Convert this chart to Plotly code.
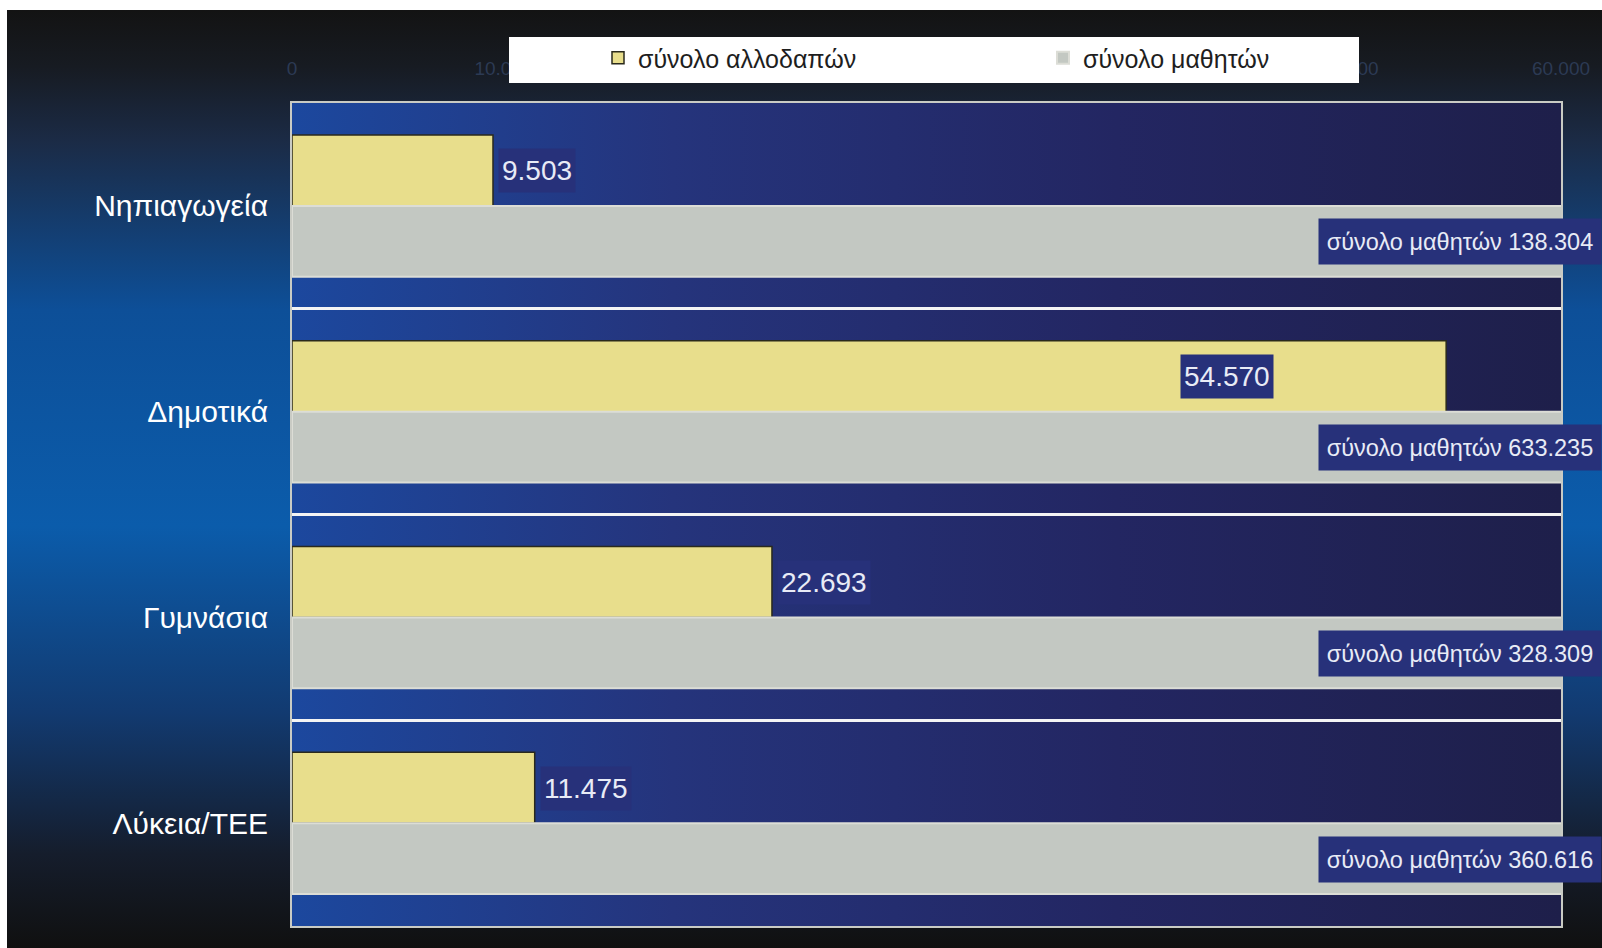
import base64
import plotly.graph_objects as go

categories = ["Νηπιαγωγεία", "Δημοτικά", "Γυμνάσια", "Λύκεια/ΤΕΕ"]
foreign_students = [9503, 54570, 22693, 11475]
total_students = [138304, 633235, 328309, 360616]
foreign_labels = ["9.503", "54.570", "22.693", "11.475"]
total_labels = ["138.304", "633.235", "328.309", "360.616"]
series_names = ["σύνολο αλλοδαπών", "σύνολο μαθητών"]
x_ticks = [0, 10000, 20000, 30000, 40000, 50000, 60000]

FONT = "Liberation Sans, Arial, sans-serif"

W, H = 1602, 948
ML, MR, MT, MB = 292, 41, 103, 22
PW, PH = W - ML - MR, H - MT - MB


def svg_uri(svg):
    return "data:image/svg+xml;base64," + base64.b64encode(svg.encode()).decode()


bg_svg = """<svg xmlns='http://www.w3.org/2000/svg' width='400' height='400' viewBox='0 0 400 400' preserveAspectRatio='none'>
<defs>
<linearGradient id='g' x1='0' y1='0' x2='0' y2='1'>
<stop offset='0' stop-color='#131313'/>
<stop offset='0.06' stop-color='#171b22'/>
<stop offset='0.14' stop-color='#1b2b46'/>
<stop offset='0.32' stop-color='#0d4f98'/>
<stop offset='0.55' stop-color='#0b5cab'/>
<stop offset='0.75' stop-color='#123a70'/>
<stop offset='0.9' stop-color='#151d2c'/>
<stop offset='1' stop-color='#101010'/>
</linearGradient>
</defs>
<rect x='0' y='0' width='400' height='400' fill='url(#g)'/>
</svg>"""

plot_svg = """<svg xmlns='http://www.w3.org/2000/svg' width='400' height='400' viewBox='0 0 400 400' preserveAspectRatio='none'>
<defs>
<linearGradient id='h' x1='0' y1='0' x2='1' y2='0'>
<stop offset='0' stop-color='#1c489e'/>
<stop offset='0.3' stop-color='#25347c'/>
<stop offset='0.65' stop-color='#232662'/>
<stop offset='1' stop-color='#1e1f4a'/>
</linearGradient>
</defs>
<rect x='0' y='0' width='400' height='400' fill='url(#h)'/>
</svg>"""

fig = go.Figure()
fig.add_trace(go.Bar(
    y=categories, x=foreign_students, orientation="h", name=series_names[0],
    marker=dict(color="#e8de8c", line=dict(color="#2a2a1c", width=1.5)),
))
fig.add_trace(go.Bar(
    y=categories, x=total_students, orientation="h", name=series_names[1],
    marker=dict(color="#c3c8c2", line=dict(color="#dcddd6", width=2)),
))

annotations = []
for cat, val, lab in zip(categories, foreign_students, foreign_labels):
    inside = val > 45000
    annotations.append(dict(
        xref="x", yref="y", x=val, y=cat,
        xanchor="right" if inside else "left",
        xshift=-172 if inside else 5, yshift=35,
        text=lab, showarrow=False, bgcolor="#27317a", borderpad=3,
        height=37,
        font=dict(family=FONT, size=28, color="#e8ebf6"),
    ))
for cat, lab in zip(categories, total_labels):
    annotations.append(dict(
        xref="paper", yref="y", x=1, y=cat, xanchor="right",
        xshift=MR, yshift=-36,
        text=series_names[1] + " " + lab, showarrow=False,
        bgcolor="#27317a", borderpad=0, width=282, height=45,
        align="center",
        font=dict(family=FONT, size=23.5, color="#e8ebf6"),
    ))

fig.update_layout(
    width=W, height=H,
    margin=dict(l=ML, r=MR, t=MT, b=MB, pad=0),
    paper_bgcolor="white", plot_bgcolor="rgba(0,0,0,0)",
    separators=",.",
    barmode="group", bargap=0.31, bargroupgap=0,
    showlegend=True,
    legend=dict(
        orientation="h", x=(598 - ML) / PW, xanchor="left",
        y=1 + (MT - 58) / PH, yanchor="middle",
        bgcolor="rgba(0,0,0,0)", entrywidth=400, entrywidthmode="pixels",
        font=dict(family=FONT, size=25, color="#1e1e1e"),
        traceorder="normal",
    ),
    xaxis=dict(
        side="top", range=[0, 60000], tickvals=x_ticks, tickformat=",d",
        showgrid=False, zeroline=False,
        showline=True, mirror=True, linecolor="#c9cbc4", linewidth=2,
        ticks="", ticklabelstandoff=18,
        tickfont=dict(family=FONT, size=19, color="#2c3a54"),
    ),
    yaxis=dict(
        autorange="reversed", tickson="boundaries",
        showgrid=True, gridcolor="#f4f4f4", gridwidth=3,
        showline=True, mirror=True, linecolor="#c9cbc4", linewidth=2,
        ticks="", ticklabelstandoff=16,
        tickfont=dict(family=FONT, size=30, color="white"),
    ),
    images=[
        dict(source=svg_uri(bg_svg), xref="paper", yref="paper",
             x=(7 - ML) / PW, y=1 + (MT - 10) / PH,
             sizex=(W - 7) / PW, sizey=(H - 10) / PH,
             sizing="stretch", xanchor="left", yanchor="top", layer="below"),
        dict(source=svg_uri(plot_svg), xref="paper", yref="paper",
             x=0, y=1, sizex=1, sizey=1,
             sizing="stretch", xanchor="left", yanchor="top", layer="below"),
    ],
    shapes=[
        dict(type="rect", xref="paper", yref="paper", layer="above",
             x0=(509 - ML) / PW, x1=(1359 - ML) / PW,
             y0=1 + (MT - 83) / PH, y1=1 + (MT - 37) / PH,
             fillcolor="white", line=dict(width=0)),
    ],
    annotations=annotations,
)

fig.write_html(
    "out.html",
    config={"displayModeBar": False},
    post_script="document.body.style.margin='0';document.documentElement.style.overflow='hidden';",
)
